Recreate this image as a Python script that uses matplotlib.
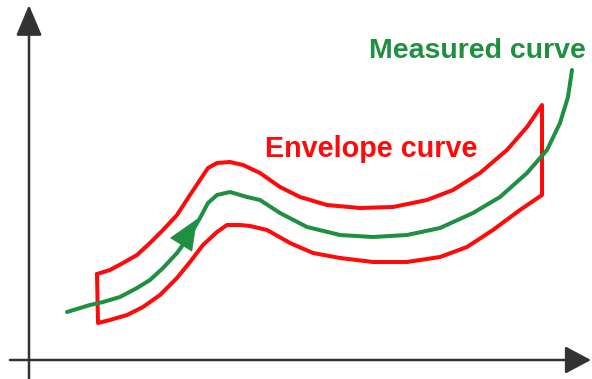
import matplotlib.pyplot as plt

# everything is in pixel coordinates of the 592x379 picture (y grows downward)
measured_x = [67, 90, 103, 120, 137, 150, 163, 177, 190, 200, 208, 217, 230, 247, 260, 280, 307, 340,
              373, 407, 440, 473, 500, 527, 547, 560, 568, 572]
measured_y = [312, 305, 302, 297, 288, 280, 268, 253, 235, 218, 203, 195, 192, 197, 200, 213, 227, 235,
              237, 235, 228, 213, 197, 173, 150, 123, 97, 70]

upper_x = [97, 110, 123, 137, 150, 163, 177, 190, 200, 208, 217, 230, 243, 260, 280, 300, 327, 360,
           393, 427, 453, 480, 507, 527, 542]
upper_y = [274, 270, 263, 255, 243, 230, 215, 195, 180, 168, 163, 162, 165, 173, 187, 197, 205, 208,
           207, 200, 190, 173, 150, 127, 105]

lower_x = [98, 110, 127, 143, 160, 177, 190, 203, 217, 227, 240, 250, 267, 290, 313, 340, 373, 407,
           440, 467, 493, 520, 542]
lower_y = [323, 320, 315, 307, 295, 278, 262, 245, 232, 225, 225, 226, 230, 243, 253, 258, 262, 262,
           257, 247, 230, 210, 195]

red = "#ff0a0a"
green = "#1f8f42"
axis_col = "#333333"

fig = plt.figure(figsize=(5.92, 3.79), dpi=100)
ax = fig.add_axes([0, 0, 1, 1])
ax.set_xlim(0, 592)
ax.set_ylim(379, 0)
ax.axis("off")

# axes with arrow heads
ax.annotate("", xy=(29, 5), xytext=(29, 379),
            arrowprops=dict(arrowstyle="-|>,head_length=19,head_width=8", mutation_scale=1,
                            color=axis_col, lw=1.8, shrinkA=0, shrinkB=0))
ax.annotate("", xy=(591, 360), xytext=(10, 360),
            arrowprops=dict(arrowstyle="-|>,head_length=16,head_width=8.5", mutation_scale=1,
                            color=axis_col, lw=1.8, shrinkA=0, shrinkB=0))

# envelope: upper edge, right side, lower edge back, left side
env_x = upper_x + lower_x[::-1] + [upper_x[0]]
env_y = upper_y + lower_y[::-1] + [upper_y[0]]
ax.plot(env_x, env_y, color=red, lw=2.9, solid_joinstyle="round", solid_capstyle="round")

ax.plot(measured_x, measured_y, color=green, lw=2.9, solid_joinstyle="round", solid_capstyle="round")
ax.annotate("", xy=(197, 219), xytext=(184, 240),
            arrowprops=dict(arrowstyle="-|>,head_length=21,head_width=9", mutation_scale=1,
                            color=green, lw=0.5, shrinkA=0, shrinkB=0))

ax.text(265, 157, "Envelope curve", color=red, fontsize=20.7, fontweight="bold",
        family="Liberation Sans", ha="left", va="baseline")
ax.text(369, 58, "Measured curve", color=green, fontsize=20.5, fontweight="bold",
        family="Liberation Sans", ha="left", va="baseline")

plt.savefig("out.png", dpi=100)
